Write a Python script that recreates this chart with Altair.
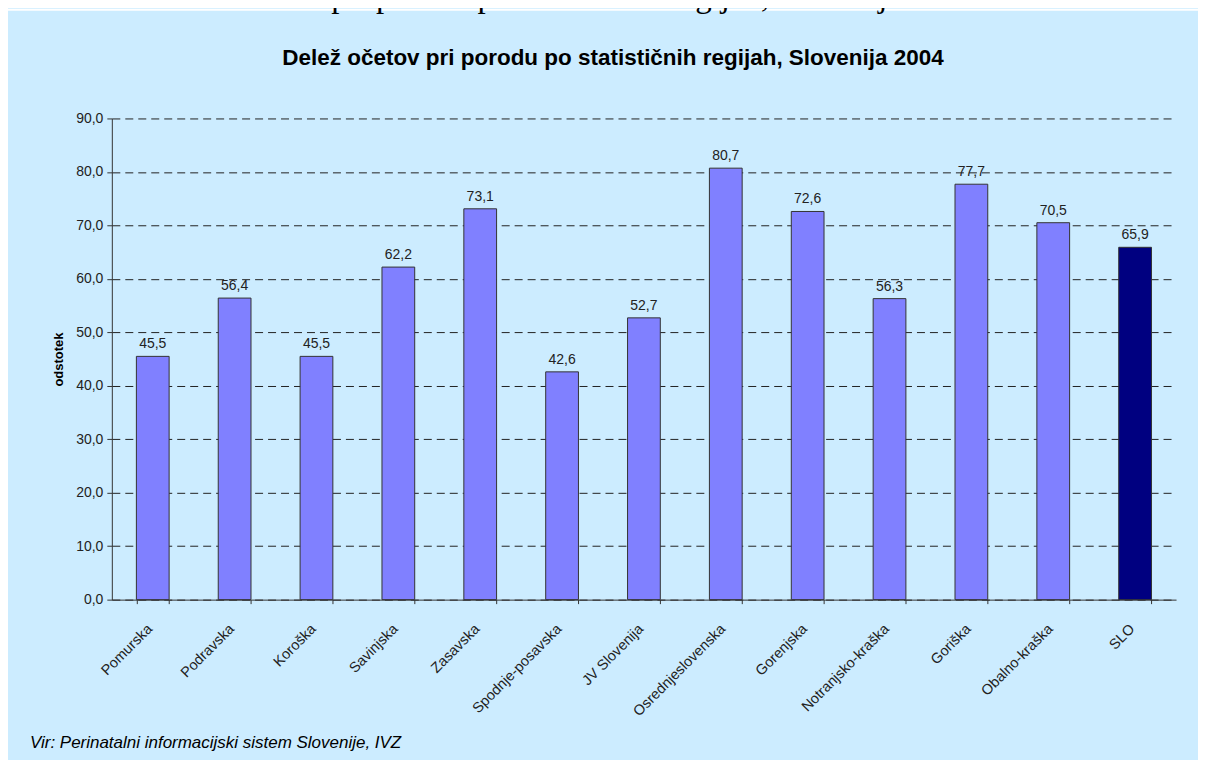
import altair as alt
import pandas as pd

regions = ["Pomurska", "Podravska", "Koroška", "Savinjska", "Zasavska",
           "Spodnje-posavska", "JV Slovenija", "Osrednjeslovenska", "Gorenjska",
           "Notranjsko-kraška", "Goriška", "Obalno-kraška", "SLO"]
values = [45.5, 56.4, 45.5, 62.2, 73.1, 42.6, 52.7, 80.7, 72.6, 56.3, 77.7, 70.5, 65.9]
kind = ["regija"] * 12 + ["slo"]

df = pd.DataFrame({"regija": regions, "delez": values, "vrsta": kind})
df["oznaka"] = [f"{v:.1f}".replace(".", ",") for v in values]

W, H = 1066, 482
PL, PT = 104, 110

font = "Liberation Sans"

strip = alt.Chart(pd.DataFrame({"a": [0]})).mark_rect(
    color="white", clip=False
).encode(
    x=alt.value(-PL), x2=alt.value(1100),
    y=alt.value(-PT), y2=alt.value(-108)
)

caption = alt.Chart(pd.DataFrame({"t": ["Slika 8.2.2 Delež očetov pri porodu po statističnih regijah, Slovenija 2004"]})).mark_text(
    font="Liberation Serif", fontSize=33, align="left", baseline="alphabetic", color="black"
).encode(x=alt.value(-112), y=alt.value(-112), text="t:N")

title = alt.Chart(pd.DataFrame({"t": ["Delež očetov pri porodu po statističnih regijah, Slovenija 2004"]})).mark_text(
    font=font, fontSize=22.5, fontWeight="bold", align="center", baseline="middle", color="black"
).encode(x=alt.value(614 - 112), y=alt.value(57 - 118), text="t:N")

source = alt.Chart(pd.DataFrame({"t": ["Vir: Perinatalni informacijski sistem Slovenije, IVZ"]})).mark_text(
    font=font, fontSize=17, fontStyle="italic", align="left", baseline="middle", color="black"
).encode(x=alt.value(30 - 112), y=alt.value(744 - 118), text="t:N")

xenc = alt.X("regija:N", sort=regions,
             scale=alt.Scale(paddingInner=0.6, paddingOuter=0.3),
             axis=alt.Axis(title=None, labelAngle=-45, labelAlign="right", labelBaseline="middle",
                           labelFont=font, labelFontSize=14.5, labelColor="#222222",
                           labelPadding=23, labelOffset=-3, tickBand="extent", ticks=True, tickSize=4,
                           tickColor="#333333", domainColor="#333333", grid=False))
yenc = alt.Y("delez:Q", scale=alt.Scale(domain=[0, 90], nice=False),
             axis=alt.Axis(title="odstotek", titleFont=font, titleFontSize=13, titleFontWeight="bold",
                           titleColor="black", titlePadding=10, values=list(range(0, 91, 10)),
                           labelExpr="replace(format(datum.value, '.1f'), '.', ',')",
                           labelFont=font, labelFontSize=14, labelColor="#222222", labelPadding=4,
                           tickSize=5, tickColor="#333333", domainColor="#333333",
                           grid=True, gridColor="#222222", gridDash=[8, 5], gridWidth=1))

bars = alt.Chart(df).mark_bar(stroke="#333333", strokeWidth=1).encode(
    x=xenc, y=yenc,
    color=alt.Color("vrsta:N", scale=alt.Scale(domain=["regija", "slo"], range=["#8080FF", "#000080"]),
                    legend=None)
)

labels = alt.Chart(df).mark_text(
    font=font, fontSize=14, color="#222222", baseline="alphabetic", dy=-8
).encode(x=alt.X("regija:N", sort=regions), y="delez:Q", text="oznaka:N")

chart = alt.layer(bars, labels, strip, caption, title, source).properties(
    width=W, height=H,
    padding={"left": PL, "top": PT, "right": 22, "bottom": 160},
    autosize=alt.AutoSizeParams(type="none"),
    background="#CCECFF"
).configure_view(stroke=None)

chart.save("out.html", embed_options={"renderer": "svg", "actions": False})
